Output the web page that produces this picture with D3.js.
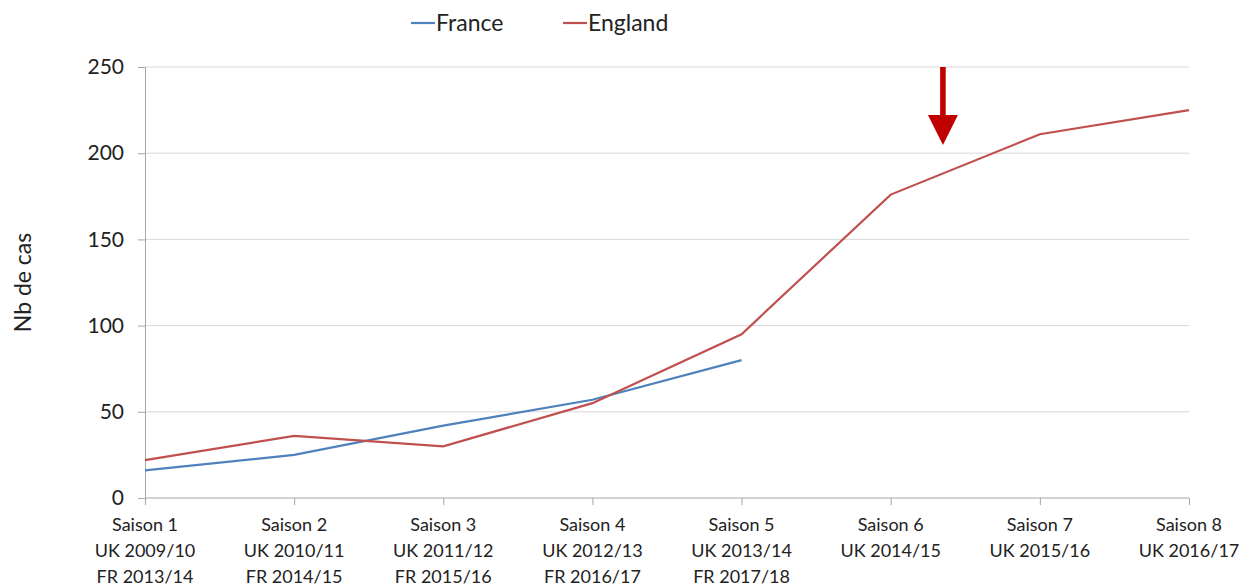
<!DOCTYPE html>
<html>
<head>
<meta charset="utf-8">
<script src="https://cdn.jsdelivr.net/npm/d3@7"></script>
<style>
  html, body { margin: 0; padding: 0; background: #fff; }
  svg { display: block; font-family: Lato, "Open Sans", sans-serif; }
</style>
</head>
<body>
<svg id="chart" width="1242" height="586"></svg>
<script>
// Seasons (x categories), each label split over several lines
const seasons = ["Saison 1", "Saison 2", "Saison 3", "Saison 4", "Saison 5", "Saison 6", "Saison 7", "Saison 8"];
const ukSeasons = ["UK 2009/10", "UK 2010/11", "UK 2011/12", "UK 2012/13", "UK 2013/14", "UK 2014/15", "UK 2015/16", "UK 2016/17"];
const frSeasons = ["FR 2013/14", "FR 2014/15", "FR 2015/16", "FR 2016/17", "FR 2017/18", "", "", ""];

// Number of cases per season
const franceValues = [16, 25, 42, 57, 80];
const englandValues = [22, 36, 30, 55, 95, 176, 211, 225];

const yTicks = [0, 50, 100, 150, 200, 250];

const colors = { France: "#4f81bd", England: "#c0504d" };

const svg = d3.select("#chart");
const margin = { left: 145, right: 53, top: 67, bottom: 88 };
const W = 1242, H = 586;

const x = d3.scalePoint().domain(seasons).range([margin.left, W - margin.right]).padding(0);
const y = d3.scaleLinear().domain([0, 250]).range([H - margin.bottom, margin.top]);

// Horizontal gridlines
svg.append("g")
  .selectAll("line")
  .data(yTicks.filter(d => d > 0))
  .join("line")
  .attr("x1", margin.left).attr("x2", W - margin.right)
  .attr("y1", d => y(d)).attr("y2", d => y(d))
  .attr("stroke", "#d9d9d9").attr("stroke-width", 1);

// Y axis
const yAxis = svg.append("g")
  .attr("transform", `translate(${margin.left},0)`)
  .call(d3.axisLeft(y).tickValues(yTicks).tickSize(7).tickPadding(14));
yAxis.select(".domain").attr("stroke", "#a6a6a6");
yAxis.selectAll(".tick line").attr("stroke", "#a6a6a6");
yAxis.selectAll(".tick text")
  .attr("font-size", 21).attr("fill", "#222").attr("font-family", "Lato, sans-serif");

// X axis
const xAxis = svg.append("g")
  .attr("transform", `translate(0,${y(0)})`)
  .call(d3.axisBottom(x).tickSize(7).tickFormat(""));
xAxis.select(".domain").attr("stroke", "#a6a6a6").attr("d", `M${margin.left},0H${W - margin.right}`);
xAxis.selectAll(".tick line").attr("stroke", "#a6a6a6");

// Multi-line category labels
const labelG = svg.append("g");
seasons.forEach((s, i) => {
  const t = labelG.append("text")
    .attr("x", x(s)).attr("y", y(0) + 33)
    .attr("text-anchor", "middle")
    .attr("font-size", 18).attr("fill", "#222");
  [s, ukSeasons[i], frSeasons[i]].filter(Boolean).forEach((line, k) => {
    t.append("tspan").attr("x", x(s)).attr("dy", k === 0 ? 0 : 26).text(line);
  });
});

// Y axis title
svg.append("text")
  .attr("transform", `translate(31,${(y(0) + y(250)) / 2}) rotate(-90)`)
  .attr("text-anchor", "middle")
  .attr("font-size", 23).attr("fill", "#222")
  .text("Nb de cas");

// Series lines
const line = d3.line().x((d, i) => x(seasons[i])).y(d => y(d));
svg.append("path").datum(franceValues)
  .attr("d", line).attr("fill", "none")
  .attr("stroke", colors.France).attr("stroke-width", 2.2);
svg.append("path").datum(englandValues)
  .attr("d", line).attr("fill", "none")
  .attr("stroke", colors.England).attr("stroke-width", 2.2);

// Legend
const legend = [{ name: "France", x0: 411 }, { name: "England", x0: 563 }];
legend.forEach(l => {
  svg.append("line")
    .attr("x1", l.x0).attr("x2", l.x0 + 24)
    .attr("y1", 23).attr("y2", 23)
    .attr("stroke", colors[l.name]).attr("stroke-width", 2.2);
  svg.append("text")
    .attr("x", l.x0 + 25).attr("y", 31)
    .attr("font-size", 23).attr("fill", "#222")
    .text(l.name);
});

// Downward arrow marking the change between seasons 6 and 7
const arrowX = x(seasons[5]) + (x(seasons[6]) - x(seasons[5])) * 0.35;
svg.append("rect")
  .attr("x", arrowX - 2.8).attr("y", y(250))
  .attr("width", 5.6).attr("height", 49)
  .attr("fill", "#c00000");
svg.append("path")
  .attr("d", `M${arrowX - 15},${y(250) + 48} L${arrowX + 15},${y(250) + 48} L${arrowX},${y(250) + 78} Z`)
  .attr("fill", "#c00000");
</script>
</body>
</html>
